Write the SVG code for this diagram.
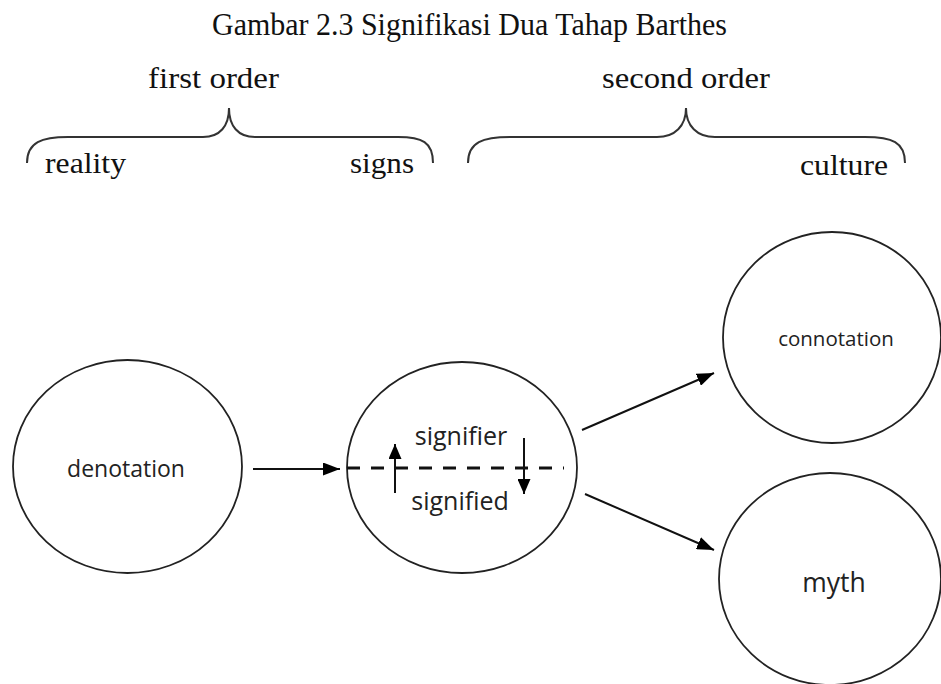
<svg xmlns="http://www.w3.org/2000/svg" width="941" height="684" viewBox="0 0 941 684">
  <defs>
    <marker id="head" viewBox="0 0 17 13" refX="17" refY="6.5" markerWidth="17" markerHeight="13" markerUnits="userSpaceOnUse" orient="auto">
      <path d="M0,0 L17,6.5 L0,13 Z" fill="#000"/>
    </marker>
    <marker id="headSmall" viewBox="0 0 15 13" refX="15" refY="6.5" markerWidth="15" markerHeight="13" markerUnits="userSpaceOnUse" orient="auto">
      <path d="M0,0 L15,6.5 L0,13 Z" fill="#000"/>
    </marker>
  </defs>
  <style>
    .serif { font-family: "Liberation Serif", "Times New Roman", serif; fill: #111; }
    .sans { font-family: "Open Sans", "Noto Sans", sans-serif; fill: #222; text-anchor: middle; }
    .node { fill: #fff; stroke: #222; stroke-width: 1.8; }
    .brace { fill: none; stroke: #333; stroke-width: 2; }
    .link { stroke: #111; stroke-width: 2; fill: none; }
  </style>
  <rect width="941" height="684" fill="#fff"/>

  <!-- heading -->
  <text class="serif" x="212" y="35" font-size="32" textLength="515" lengthAdjust="spacingAndGlyphs">Gambar 2.3 Signifikasi Dua Tahap Barthes</text>

  <!-- order labels and braces -->
  <g id="first-order">
    <text class="serif" x="148" y="88" font-size="29" textLength="131" lengthAdjust="spacingAndGlyphs">first order</text>
    <path class="brace" d="M27,163 C27,142 42,137 68,137 L203,137 C220,137 229,126 229,108 C229,126 238,137 255,137 L398,137 C422,137 433,142 433,163"/>
    <text class="serif" x="45" y="173" font-size="29" textLength="81" lengthAdjust="spacingAndGlyphs">reality</text>
    <text class="serif" x="350" y="173" font-size="29" textLength="64" lengthAdjust="spacingAndGlyphs">signs</text>
  </g>
  <g id="second-order">
    <text class="serif" x="602" y="88" font-size="29" textLength="168" lengthAdjust="spacingAndGlyphs">second order</text>
    <path class="brace" d="M468,163 C468,142 483,137 510,137 L657,137 C675,137 686,126 686,108 C686,126 697,137 715,137 L865,137 C892,137 905,142 905,163"/>
    <text class="serif" x="800" y="175" font-size="29" textLength="88" lengthAdjust="spacingAndGlyphs">culture</text>
  </g>

  <!-- nodes -->
  <g id="denotation">
    <ellipse class="node" cx="127.5" cy="466.5" rx="114.5" ry="106.5"/>
    <text class="sans" x="126" y="477" font-size="23">denotation</text>
  </g>
  <g id="sign">
    <ellipse class="node" cx="462" cy="467.5" rx="115" ry="105.5"/>
    <text class="sans" x="461" y="445" font-size="25">signifier</text>
    <text class="sans" x="460" y="510" font-size="25">signified</text>
  </g>
  <g id="connotation">
    <ellipse class="node" cx="832" cy="337.5" rx="109" ry="105.5"/>
    <text class="sans" x="836" y="346" font-size="20.5">connotation</text>
  </g>
  <g id="myth">
    <ellipse class="node" cx="830" cy="579" rx="111" ry="106"/>
    <text class="sans" x="834" y="592" font-size="26.5">myth</text>
  </g>

  <!-- connectors -->
  <g id="connectors">
    <line class="link" x1="253" y1="469" x2="340" y2="469" marker-end="url(#head)"/>
    <line x1="347" y1="468" x2="564" y2="468" stroke="#111" stroke-width="3.2" stroke-dasharray="13 11"/>
    <line class="link" x1="395" y1="493" x2="395" y2="444" marker-end="url(#headSmall)"/>
    <line class="link" x1="524" y1="438" x2="524" y2="494" marker-end="url(#headSmall)"/>
    <line class="link" x1="582" y1="430" x2="714" y2="373" marker-end="url(#head)"/>
    <line class="link" x1="585" y1="494" x2="714" y2="550" marker-end="url(#head)"/>
  </g>
</svg>
